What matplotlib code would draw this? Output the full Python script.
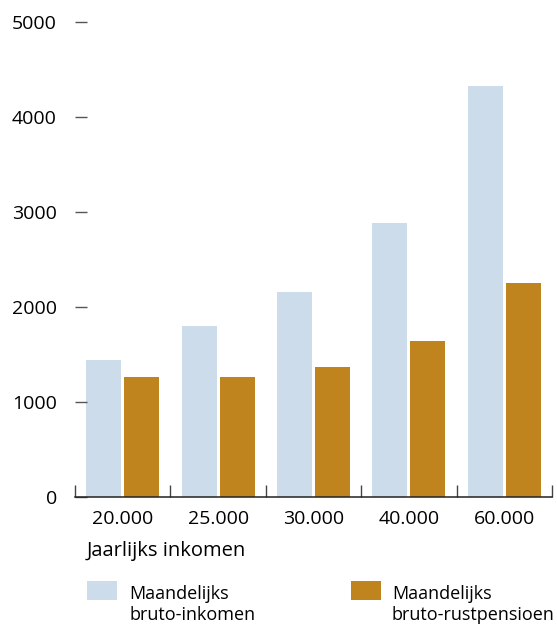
import matplotlib
matplotlib.use("Agg")
import matplotlib.pyplot as plt
from matplotlib.ticker import FixedLocator
from matplotlib.patches import Rectangle
from matplotlib.legend_handler import HandlerPatch
import numpy as np

# data
categories = ["20.000", "25.000", "30.000", "40.000", "60.000"]
inkomen = [1442, 1800, 2158, 2884, 4326]
pensioen = [1263, 1263, 1368, 1642, 2253]
series_labels = ["Maandelijks\nbruto-inkomen", "Maandelijks\nbruto-rustpensioen"]

light = "#CCDCEA"
gold = "#BF841E"

plt.rcParams["font.family"] = ["Open Sans", "DejaVu Sans"]
FS = 14

fig = plt.figure(figsize=(5.57, 6.29), dpi=100)
W, H = 557, 629
ax = fig.add_axes([75 / W, (H - 497) / H, (552 - 75) / W, (497 - 22) / H])

x = np.arange(len(categories))
bw = 0.367
b1 = ax.bar(x - 0.2, inkomen, bw, color=light, label=series_labels[0])
b2 = ax.bar(x + 0.2, pensioen, bw, color=gold, label=series_labels[1])

ax.set_xlim(-0.5, len(categories) - 0.5)
ax.set_ylim(0, 5000)

for s in ["top", "right", "left"]:
    ax.spines[s].set_visible(False)
ax.spines["bottom"].set_linewidth(1.1)
ax.spines["bottom"].set_color("#222222")

ax.set_xticks(x)
ax.set_xticklabels(categories, fontsize=FS)
ax.xaxis.set_minor_locator(FixedLocator(np.arange(-0.5, len(categories), 1.0)))
ax.tick_params(axis="x", which="major", length=0, pad=9.5)
ax.tick_params(axis="x", which="minor", direction="in", length=8.5, width=1, color="#444444")

ax.set_yticks([0, 1000, 2000, 3000, 4000, 5000])
ax.tick_params(axis="y", direction="in", length=8.5, width=1, color="#555555", pad=13, labelsize=FS)

ax.set_xlabel("Jaarlijks inkomen", fontsize=14.5, loc="left", labelpad=9)
ax.xaxis.label.set_position((0.025, 0))


# legend swatch sits level with the first text line
def top_patch(legend, orig_handle, xdescent, ydescent, width, height, fontsize):
    return Rectangle((-xdescent, -ydescent + 11), width, height)


LFS = 13
for bars, lab, x0, pad in [(b1, series_labels[0], 87, 0.7), (b2, series_labels[1], 351, 0.6)]:
    h = bars.patches[0]
    leg = fig.legend(handles=[h], labels=[lab], loc="upper left",
                     bbox_to_anchor=(x0 / W, 1 - 585 / H), frameon=False, fontsize=LFS,
                     handlelength=30 / 18.05, handleheight=23 / 18.05, handletextpad=pad,
                     borderpad=0, borderaxespad=0,
                     handler_map={h: HandlerPatch(patch_func=top_patch)})
    for t in leg.get_texts():
        t.set_linespacing(1.25)

fig.savefig("out.png", dpi=100)
